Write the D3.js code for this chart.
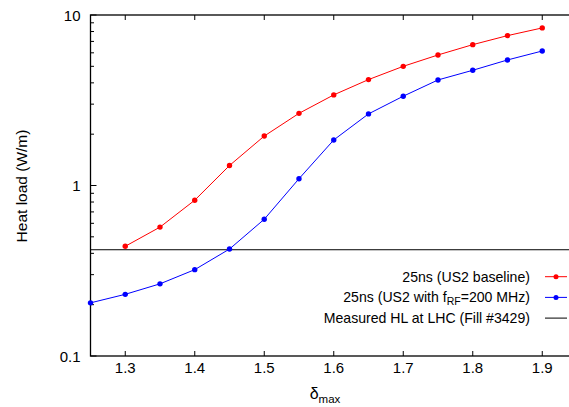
<!DOCTYPE html>
<html><head><meta charset="utf-8">
<script src="https://cdn.jsdelivr.net/npm/d3@7"></script>
<style>body{margin:0;background:#fff}svg{display:block;font-family:"Liberation Sans",Arial,sans-serif}</style>
</head><body><svg id="c" width="569" height="407"></svg>
<script>
const xVals = [1.25,1.3,1.35,1.4,1.45,1.5,1.55,1.6,1.65,1.7,1.75,1.8,1.85,1.9];
const redX = [1.3,1.35,1.4,1.45,1.5,1.55,1.6,1.65,1.7,1.75,1.8,1.85,1.9];
const redY = [0.44,0.57,0.82,1.31,1.95,2.65,3.40,4.18,5.0,5.83,6.70,7.57,8.40];
const blueX = xVals;
const blueY = [0.205,0.230,0.265,0.321,0.424,0.634,1.096,1.85,2.63,3.34,4.16,4.74,5.45,6.15];
const measuredHL = 0.42;
const xTicks = [1.3,1.4,1.5,1.6,1.7,1.8,1.9];
const yTicks = [0.1,1,10];
const legendLabels = ["25ns (US2 baseline)","25ns (US2 with f_RF=200 MHz)","Measured HL at LHC (Fill #3429)"];

const svg = d3.select("#c");
const L=90.5, R=577, T=15, B=356;
const x = d3.scaleLinear().domain([1.25,1.95]).range([L,R]);
const y = d3.scaleLog().domain([0.1,10]).range([B,T]);

// minor ticks
const minor = [];
for (let d=0.1; d<10; d*=10) for (let k=2;k<=9;k++) minor.push(d*k);
const g = svg.append("g");
g.selectAll(".ymin").data(minor).join("line")
 .attr("x1",L).attr("x2",L+3.5).attr("y1",d=>y(d)).attr("y2",d=>y(d))
 .attr("stroke","#000").attr("stroke-width",1);
g.selectAll(".ymaj").data(yTicks).join("line")
 .attr("x1",L).attr("x2",L+6).attr("y1",d=>y(d)).attr("y2",d=>y(d))
 .attr("stroke","#000").attr("stroke-width",1);
g.selectAll(".xb").data(xTicks).join("line")
 .attr("x1",d=>x(d)).attr("x2",d=>x(d)).attr("y1",B).attr("y2",B-5)
 .attr("stroke","#000");
g.selectAll(".xt").data(xTicks).join("line")
 .attr("x1",d=>x(d)).attr("x2",d=>x(d)).attr("y1",T).attr("y2",T+5)
 .attr("stroke","#000");

// frame
svg.append("rect").attr("x",L).attr("y",T).attr("width",R-L).attr("height",B-T)
 .attr("fill","none").attr("stroke","#000").attr("stroke-width",1.3);

// tick labels
svg.selectAll(".xl").data(xTicks).join("text")
 .attr("x",d=>x(d)).attr("y",B+17).attr("text-anchor","middle")
 .attr("font-size",15).text(d=>d.toFixed(1));
svg.selectAll(".yl").data(yTicks).join("text")
 .attr("x",L-10).attr("y",d=>y(d)+5.5).attr("text-anchor","end")
 .attr("font-size",15).text(d=>d===0.1?"0.1":String(d));

// axis titles
svg.append("text").attr("transform",`translate(27,186) rotate(-90)`)
 .attr("text-anchor","middle").attr("font-size",15.5).text("Heat load (W/m)");
const xt = svg.append("text").attr("x",325).attr("y",399).attr("text-anchor","middle").attr("font-size",16);
xt.append("tspan").text("δ");
xt.append("tspan").attr("font-size",11.5).attr("dy",4).text("max");

// measured line
svg.append("line").attr("x1",L).attr("x2",R).attr("y1",y(measuredHL)).attr("y2",y(measuredHL))
 .attr("stroke","#000").attr("stroke-width",1);

function series(xs, ys, color){
  const pts = xs.map((d,i)=>[d,ys[i]]);
  svg.append("path").datum(pts)
   .attr("d",d3.line().x(d=>x(d[0])).y(d=>y(d[1])))
   .attr("fill","none").attr("stroke",color).attr("stroke-width",1);
  svg.selectAll(null).data(pts).join("circle")
   .attr("cx",d=>x(d[0])).attr("cy",d=>y(d[1])).attr("r",2.7).attr("fill",color);
}
series(redX, redY, "#ff0000");
series(blueX, blueY, "#0000ff");

// legend
const colors = ["#ff0000","#0000ff","#000000"];
const ly = [276.7,297.4,318.1];
legendLabels.forEach((lab,i)=>{
  const t = svg.append("text").attr("x",530).attr("y",ly[i]+5).attr("text-anchor","end").attr("font-size",14.1);
  if (lab.includes("f_RF")){
    const [a,b] = lab.split("f_RF");
    t.append("tspan").text(a+"f");
    t.append("tspan").attr("font-size",10.5).attr("dy",3).text("RF");
    t.append("tspan").attr("dy",-3).text(b);
  } else t.text(lab);
  svg.append("line").attr("x1",545).attr("x2",567).attr("y1",ly[i]).attr("y2",ly[i])
   .attr("stroke",colors[i]).attr("stroke-width",1);
  if (i<2) svg.append("circle").attr("cx",556).attr("cy",ly[i]).attr("r",2.5).attr("fill",colors[i]);
});
</script></body></html>
